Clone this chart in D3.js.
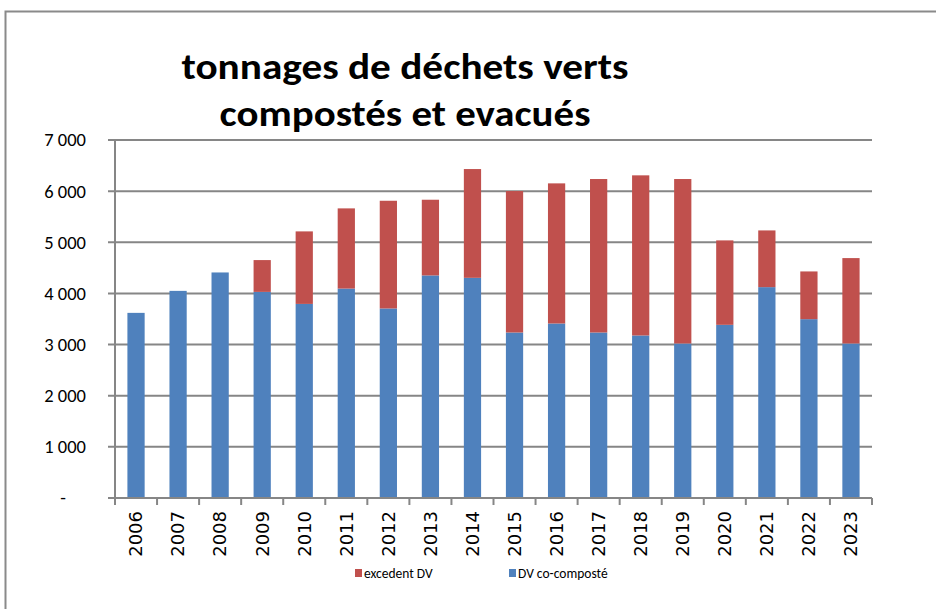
<!DOCTYPE html>
<html>
<head>
<meta charset="utf-8">
<script src="https://cdn.jsdelivr.net/npm/d3@7"></script>
<style>
  body { margin: 0; background: #fff; }
</style>
</head>
<body>
<div id="chart"></div>
<script>
// data (tonnes)
let years = ["2006", "2007", "2008", "2009", "2010", "2011", "2012", "2013", "2014",
             "2015", "2016", "2017", "2018", "2019", "2020", "2021", "2022", "2023"];
let coComposte = [3620, 4050, 4410, 4030, 3795, 4095, 3706, 4352, 4305,
                  3236, 3412, 3236, 3178, 3021, 3386, 4123, 3497, 3021];
let totals = [3620, 4050, 4410, 4652, 5213, 5663, 5812, 5832, 6432,
              6002, 6152, 6237, 6309, 6237, 5037, 5232, 4430, 4691];
let yTicks = [0, 1000, 2000, 3000, 4000, 5000, 6000, 7000];
let seriesNames = ["excedent DV", "DV co-composté"];
let seriesColors = ["#C0504D", "#4F81BD"];

let width = 936, height = 609;
let plot = { left: 115, right: 872, top: 140, bottom: 498 };

let svg = d3.select("#chart")
    .append("svg")
    .attr("width", width)
    .attr("height", height);

// outer chart border
svg.append("rect")
    .attr("x", 5.5).attr("y", 11.5)
    .attr("width", 940).attr("height", 610)
    .attr("fill", "none")
    .attr("stroke", "#8a8a8a")
    .attr("stroke-width", 2);

let x = d3.scaleBand()
    .domain(years)
    .range([plot.left, plot.right])
    .paddingInner(0.59)
    .paddingOuter(0.295);

let y = d3.scaleLinear()
    .domain([0, 7000])
    .range([plot.bottom, plot.top]);

// gridlines + tick marks on the y axis
svg.append("g").selectAll("line").data(yTicks).enter()
    .append("line")
    .attr("x1", plot.left - 7)
    .attr("x2", plot.right)
    .attr("y1", d => y(d))
    .attr("y2", d => y(d))
    .attr("stroke", "#868686")
    .attr("stroke-width", 2);

// y labels
let fmt = d => d === 0 ? "-" : d3.format(",")(d).replace(",", " ");
svg.append("g").selectAll("text").data(yTicks).enter()
    .append("text")
    .attr("x", d => d === 0 ? 66 : 86)
    .attr("y", d => y(d))
    .attr("dy", "0.35em")
    .style("text-anchor", "end")
    .style("font-family", "Carlito, 'Liberation Sans', sans-serif")
    .style("font-size", "18.5px")
    .attr("fill", "#000")
    .text(fmt);

// stacked data
let data = years.map((yr, i) => ({ year: yr, blue: coComposte[i], total: totals[i] }));

let bars = svg.append("g");
bars.selectAll("rect.blue").data(data).enter()
    .append("rect")
    .attr("class", "blue")
    .attr("x", d => x(d.year))
    .attr("width", x.bandwidth())
    .attr("y", d => y(d.blue))
    .attr("height", d => y(0) - y(d.blue))
    .attr("fill", seriesColors[1]);

bars.selectAll("rect.red").data(data.filter(d => d.total > d.blue)).enter()
    .append("rect")
    .attr("class", "red")
    .attr("x", d => x(d.year))
    .attr("width", x.bandwidth())
    .attr("y", d => y(d.total))
    .attr("height", d => y(d.blue) - y(d.total))
    .attr("fill", seriesColors[0]);

// y axis line
svg.append("line")
    .attr("x1", plot.left).attr("x2", plot.left)
    .attr("y1", plot.top).attr("y2", plot.bottom)
    .attr("stroke", "#868686").attr("stroke-width", 2);

// x axis line and tick marks between categories
svg.append("line")
    .attr("x1", plot.left).attr("x2", plot.right)
    .attr("y1", plot.bottom).attr("y2", plot.bottom)
    .attr("stroke", "#868686").attr("stroke-width", 2);

let step = x.step();
let xTickPos = d3.range(years.length + 1).map(i => plot.left + i * step);
svg.append("g").selectAll("line").data(xTickPos).enter()
    .append("line")
    .attr("x1", d => d).attr("x2", d => d)
    .attr("y1", plot.bottom).attr("y2", plot.bottom + 7)
    .attr("stroke", "#868686").attr("stroke-width", 2);

// x labels, rotated
svg.append("g").selectAll("text").data(years).enter()
    .append("text")
    .attr("transform", d => `translate(${x(d) + x.bandwidth() / 2}, 511) rotate(-90)`)
    .attr("dy", "0.35em")
    .style("text-anchor", "end")
    .style("font-family", "'DejaVu Sans', Verdana, sans-serif")
    .style("font-size", "18px")
    .attr("fill", "#000")
    .text(d => d);

// title
let titleLines = ["tonnages de déchets verts", "compostés et evacués"];
let titleWidths = [447, 371];
let titleY = [79, 126];
svg.append("g").selectAll("text").data(titleLines).enter()
    .append("text")
    .attr("x", 405)
    .attr("y", (d, i) => titleY[i])
    .style("text-anchor", "middle")
    .style("font-family", "Carlito, 'Liberation Sans', sans-serif")
    .style("font-weight", "bold")
    .style("font-size", "37px")
    .attr("textLength", (d, i) => titleWidths[i])
    .attr("lengthAdjust", "spacingAndGlyphs")
    .text(d => d);

// legend
let legendX = [355, 509];
let legend = svg.append("g").selectAll("g").data(seriesNames).enter()
    .append("g")
    .attr("transform", (d, i) => `translate(${legendX[i]}, 573)`);
legend.append("rect")
    .attr("x", 0).attr("y", -4)
    .attr("width", 7).attr("height", 8)
    .attr("fill", (d, i) => seriesColors[i]);
legend.append("text")
    .attr("x", 9)
    .attr("dy", "0.35em")
    .style("font-family", "Carlito, 'Liberation Sans', sans-serif")
    .style("font-size", "13.5px")
    .attr("fill", "#000")
    .text(d => d);
</script>
</body>
</html>
